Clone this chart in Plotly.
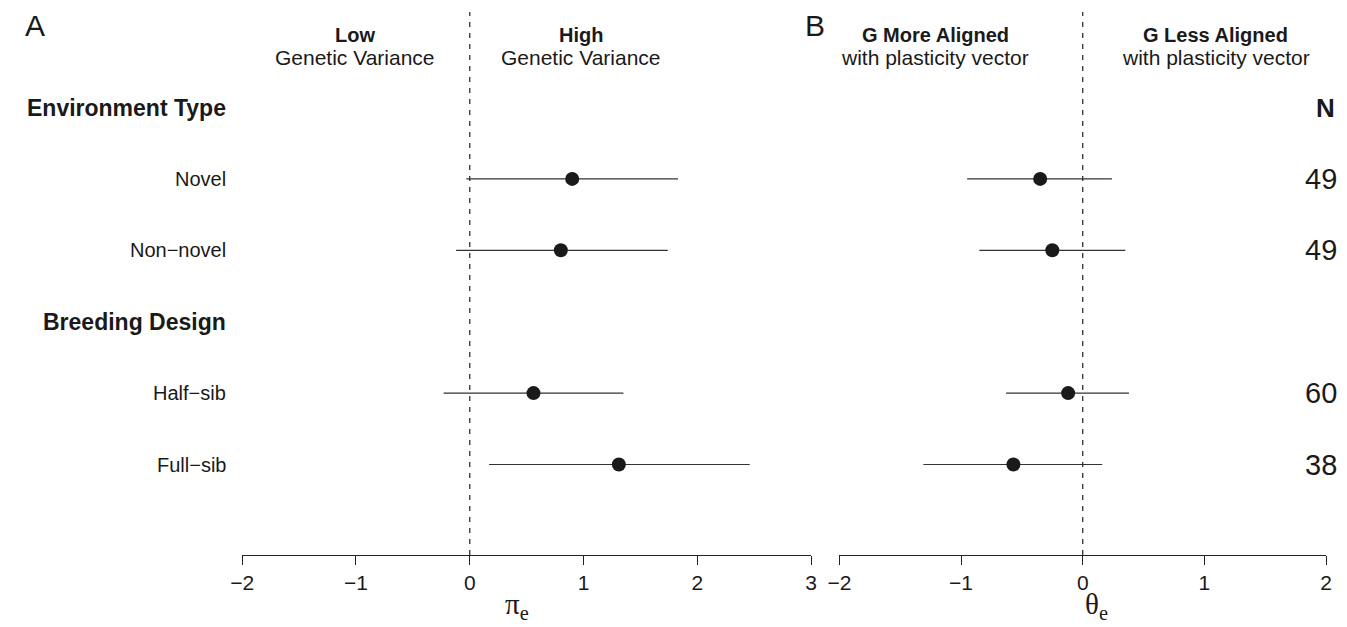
import plotly.graph_objects as go

# ---------------- data ----------------
row_labels = ["Environment Type", "Novel", "Non\u2212novel", "Breeding Design", "Half\u2212sib", "Full\u2212sib"]
row_is_header = [True, False, False, True, False, False]
row_index = [1, 2, 3, 4, 5, 6]

data_rows = [2, 3, 5, 6]          # rows that carry estimates
pi_est = [0.90, 0.80, 0.56, 1.31]
pi_lo = [-0.03, -0.12, -0.23, 0.17]
pi_hi = [1.83, 1.74, 1.35, 2.46]

theta_est = [-0.35, -0.25, -0.12, -0.57]
theta_lo = [-0.95, -0.85, -0.63, -1.31]
theta_hi = [0.24, 0.35, 0.38, 0.16]

n_values = [49, 49, 60, 38]

pi_ticks = [-2, -1, 0, 1, 2, 3]
theta_ticks = [-2, -1, 0, 1, 2]
ref_value = 0

# ---------------- layout helpers ----------------
W, H = 1347, 627
def px(x):
    return x / W
def py(y):
    return 1 - y / H

FONT = "Liberation Sans, Arial, Helvetica, sans-serif"
SERIF = "Liberation Serif, Times New Roman, serif"
DOT = "#1a1a1a"
BAR = "#333333"
TXT = "#1a1a1a"

fig = go.Figure()

def add_panel(est, lo, hi, xaxis):
    fig.add_trace(go.Scatter(
        x=est, y=data_rows, mode="markers", xaxis=xaxis, yaxis="y",
        marker=dict(size=14, color=DOT, line=dict(width=0)),
        error_x=dict(type="data", symmetric=False,
                     array=[h - e for h, e in zip(hi, est)],
                     arrayminus=[e - l for e, l in zip(est, lo)],
                     width=0, thickness=1.2, color=BAR),
        cliponaxis=False, showlegend=False, hoverinfo="skip"))

add_panel(pi_est, pi_lo, pi_hi, "x")
add_panel(theta_est, theta_lo, theta_hi, "x2")

axis_y_px = 555
row_top_px = 107.5
row_step_px = 71.4
y_top = 1 - row_top_px / row_step_px
y_bot = 1 + (axis_y_px - row_top_px) / row_step_px

common_x = dict(showline=True, linecolor="#222222", linewidth=1, ticks="outside",
                ticklen=9, tickwidth=1, tickcolor="#222222", showgrid=False,
                zeroline=False, tickfont=dict(family=FONT, size=21, color=TXT),
                anchor="y", fixedrange=True)

fig.update_layout(
    width=W, height=H, margin=dict(l=0, r=0, t=0, b=0),
    paper_bgcolor="white", plot_bgcolor="white",
    font=dict(family=FONT, color=TXT),
    xaxis=dict(domain=[px(233.3), px(810.0)], range=[pi_ticks[0], pi_ticks[-1]],
               tickvals=pi_ticks, **common_x),
    xaxis2=dict(domain=[px(838.6), px(1331.9)], range=[theta_ticks[0], theta_ticks[-1]],
                tickvals=theta_ticks, **common_x),
    yaxis=dict(domain=[py(axis_y_px), 1], range=[y_bot, y_top], visible=False,
               fixedrange=True),
    showlegend=False,
)

# dashed reference lines
for xr in ["x", "x2"]:
    fig.add_shape(type="line", xref=xr, yref="paper", x0=ref_value, x1=ref_value,
                  y0=py(axis_y_px), y1=py(12),
                  line=dict(color="#222222", width=1.2, dash="5px,6px"))

ann = []
# row labels
for lab, hdr, r in zip(row_labels, row_is_header, row_index):
    ann.append(dict(text=f"<b>{lab}</b>" if hdr else lab, xref="paper", yref="y",
                    x=px(219), y=r, xanchor="right", yanchor="middle",
                    showarrow=False,
                    font=dict(family=FONT, size=23 if hdr else 20, color=TXT)))
# N column
ann.append(dict(text="<b>N</b>", xref="paper", yref="y", x=px(1343), y=row_index[0],
                xanchor="right", yanchor="middle", showarrow=False,
                font=dict(family=FONT, size=26, color=TXT)))
for n, r in zip(n_values, data_rows):
    ann.append(dict(text=str(n), xref="paper", yref="y", x=px(1345), y=r,
                    xanchor="right", yanchor="middle", showarrow=False,
                    font=dict(family=FONT, size=29, color=TXT)))

# panel letters
ann.append(dict(text="A", xref="paper", yref="paper", x=px(23), y=py(26),
                xanchor="center", yanchor="middle", showarrow=False,
                font=dict(family=FONT, size=30, color=TXT)))
ann.append(dict(text="B", xref="paper", yref="paper", x=px(814), y=py(25),
                xanchor="center", yanchor="middle", showarrow=False,
                font=dict(family=FONT, size=30, color=TXT)))

# column headers
headers = [("Low", "Genetic Variance", 348), ("High", "Genetic Variance", 577),
           ("G More Aligned", "with plasticity vector", 936),
           ("G Less Aligned", "with plasticity vector", 1220)]
for top, bottom, cx in headers:
    ann.append(dict(text=f"<b>{top}</b>", xref="paper", yref="paper", x=px(cx), y=py(35),
                    xanchor="center", yanchor="middle", showarrow=False,
                    font=dict(family=FONT, size=20, color=TXT)))
    ann.append(dict(text=bottom, xref="paper", yref="paper", x=px(cx), y=py(57),
                    xanchor="center", yanchor="middle", showarrow=False,
                    font=dict(family=FONT, size=21, color=TXT)))

# axis titles
ann.append(dict(text="\u03c0<sub>e</sub>", xref="paper", yref="paper", x=px(512), y=py(606),
                xanchor="center", yanchor="middle", showarrow=False,
                font=dict(family=SERIF, size=29, color=TXT)))
ann.append(dict(text="\u03b8<sub>e</sub>", xref="paper", yref="paper", x=px(1099), y=py(606),
                xanchor="center", yanchor="middle", showarrow=False,
                font=dict(family=SERIF, size=29, color=TXT)))

fig.update_layout(annotations=ann)
fig.write_html("out.html", config={"displayModeBar": False},
               post_script="document.body.style.margin='0px';document.body.style.overflow='hidden';")
